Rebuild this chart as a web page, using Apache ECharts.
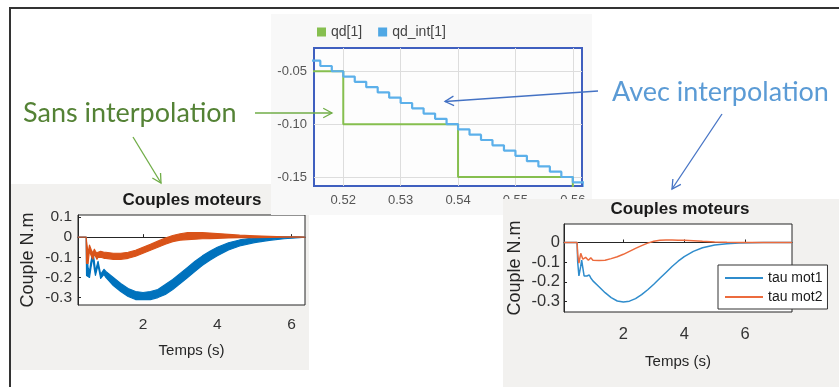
<!DOCTYPE html>
<html>
<head>
<meta charset="utf-8">
<title>Couples moteurs</title>
<script src="https://cdn.jsdelivr.net/npm/echarts@6.0.0/dist/echarts.min.js"></script>
<style>
html, body { margin: 0; padding: 0; background: #fff; }
#main { width: 839px; height: 387px; }
</style>
</head>
<body>
<div id="main"></div>
<script>
// consigne qd et consigne interpolee (zoom autour de t = 0.54 s)
var qdTime = [0.514, 0.52, 0.54, 0.56, 0.562];
var qd = [-0.05, -0.10, -0.15, -0.20, -0.20];
var qdIntTime = [0.514, 0.516, 0.518, 0.520, 0.522, 0.524, 0.526, 0.528, 0.530, 0.532, 0.534, 0.536, 0.538,
    0.540, 0.542, 0.544, 0.546, 0.548, 0.550, 0.552, 0.554, 0.556, 0.558, 0.560, 0.562];
var qdInt = [-0.040, -0.045, -0.050, -0.055, -0.060, -0.065, -0.070, -0.075, -0.080, -0.085, -0.090, -0.095, -0.100,
    -0.105, -0.110, -0.115, -0.120, -0.125, -0.130, -0.135, -0.140, -0.145, -0.150, -0.155, -0.160];
var midXTicks = [0.52, 0.53, 0.54, 0.55, 0.56];
var midYTicks = [-0.05, -0.10, -0.15];

// couples sans interpolation : enveloppe haute / basse des oscillations
var leftTime = [0.25, 0.47, 0.48, 0.52, 0.56, 0.6, 0.65, 0.69, 0.72, 0.76, 0.79, 0.86, 0.95, 1.0, 1.2, 1.4, 1.6, 1.8,
    2.0, 2.2, 2.4, 2.6, 2.8, 3.0, 3.2, 3.4, 3.6, 3.8, 4.0, 4.3, 4.6, 5.0, 5.4, 5.8, 6.2, 6.36];
var leftMot1High = [0, 0, -0.05, -0.15, -0.17, -0.12, -0.075, -0.12, -0.17, -0.14, -0.12, -0.185, -0.16, -0.17, -0.2,
    -0.23, -0.255, -0.27, -0.275, -0.27, -0.26, -0.235, -0.21, -0.18, -0.15, -0.12, -0.093, -0.07, -0.05, -0.028,
    -0.014, -0.003, 0.001, 0.002, 0.001, 0];
var leftMot1Low = [0, 0, -0.19, -0.195, -0.2, -0.15, -0.1, -0.16, -0.19, -0.16, -0.14, -0.205, -0.185, -0.2, -0.24,
    -0.27, -0.295, -0.31, -0.31, -0.31, -0.3, -0.285, -0.26, -0.23, -0.2, -0.17, -0.14, -0.115, -0.092, -0.064,
    -0.044, -0.027, -0.016, -0.008, -0.003, 0];
var leftMot2High = [0, 0, -0.02, -0.08, -0.04, -0.06, -0.08, -0.06, -0.07, -0.08, -0.075, -0.07, -0.075, -0.075, -0.08,
    -0.08, -0.075, -0.065, -0.05, -0.035, -0.02, -0.005, 0.008, 0.017, 0.022, 0.023, 0.022, 0.02, 0.018, 0.014,
    0.01, 0.007, 0.004, 0.002, 0.001, 0];
var leftMot2Low = [0, 0, -0.13, -0.13, -0.065, -0.09, -0.11, -0.085, -0.095, -0.11, -0.1, -0.1, -0.105, -0.105, -0.11,
    -0.11, -0.105, -0.095, -0.08, -0.065, -0.05, -0.035, -0.022, -0.015, -0.012, -0.01, -0.008, -0.007, -0.006, -0.004,
    -0.003, -0.002, -0.001, 0, 0, 0];
var leftXTicks = [2, 4, 6];
var leftYTicks = [0.1, 0, -0.1, -0.2, -0.3];

// couples avec interpolation
var rightTime = [0.05, 0.48, 0.5, 0.54, 0.6, 0.63, 0.67, 0.71, 0.76, 0.8, 0.85, 0.88, 0.93, 1.0, 1.2, 1.4, 1.6, 1.8,
    2.0, 2.2, 2.4, 2.6, 2.8, 3.0, 3.2, 3.4, 3.6, 3.8, 4.0, 4.3, 4.6, 5.0, 5.4, 5.8, 6.2, 6.6, 7.0, 7.54];
var tauMot1 = [0, 0, -0.1, -0.17, -0.12, -0.09, -0.13, -0.17, -0.165, -0.17, -0.16, -0.165, -0.18, -0.195, -0.225,
    -0.255, -0.28, -0.297, -0.302, -0.298, -0.285, -0.265, -0.24, -0.212, -0.182, -0.152, -0.122, -0.095, -0.072,
    -0.045, -0.027, -0.013, -0.006, -0.003, -0.001, 0, 0, 0];
var tauMot2 = [0, 0, -0.06, -0.105, -0.055, -0.06, -0.085, -0.08, -0.075, -0.08, -0.09, -0.082, -0.078, -0.09, -0.092,
    -0.09, -0.082, -0.072, -0.06, -0.045, -0.03, -0.016, -0.003, 0.006, 0.011, 0.013, 0.013, 0.012, 0.011, 0.009,
    0.006, 0.003, 0.001, 0, 0, 0, 0, 0];
var rightXTicks = [2, 4, 6];
var rightYTicks = [0, -0.1, -0.2, -0.3];

var BLUE = '#0072bd', ORANGE = '#d95319';
var FONT = 'Liberation Sans';

function pairs(xs, ys) {
    return xs.map(function (x, i) { return [x, ys[i]]; });
}

// bande d'oscillation : polygone entre l'enveloppe haute et basse
function band(name, color, time, low, high, idx) {
    return {
        name: name, type: 'custom', xAxisIndex: idx, yAxisIndex: idx, z: 4, silent: true,
        data: pairs(time, high),
        renderItem: function (params, api) {
            if (params.dataIndex !== 0) return;
            var pts = [], i;
            for (i = 0; i < time.length; i++) pts.push(api.coord([time[i], high[i]]));
            for (i = time.length - 1; i >= 0; i--) pts.push(api.coord([time[i], low[i]]));
            return {
                type: 'polygon', shape: { points: pts },
                style: { fill: color, stroke: color, lineWidth: 1.2, lineJoin: 'round' }
            };
        }
    };
}

function arrow(x1, y1, x2, y2, color) {
    var a = Math.atan2(y2 - y1, x2 - x1), l = 10, s = 0.5;
    return [{
        type: 'line', z: 20, shape: { x1: x1, y1: y1, x2: x2, y2: y2 },
        style: { stroke: color, lineWidth: 1.3 }
    }, {
        type: 'polyline', z: 20,
        shape: { points: [[x2 - l * Math.cos(a - s), y2 - l * Math.sin(a - s)], [x2, y2],
            [x2 - l * Math.cos(a + s), y2 - l * Math.sin(a + s)]] },
        style: { stroke: color, fill: null, lineWidth: 1.3 }
    }];
}

function matlabX(idx, min, max, ticks, z, nameGap, margin, size) {
    return {
        type: 'value', gridIndex: idx, min: min, max: max, z: z,
        name: 'Temps (s)', nameLocation: 'middle', nameGap: nameGap,
        nameTextStyle: { fontSize: 15, color: '#262626', fontFamily: FONT },
        axisLine: { show: true, lineStyle: { color: '#262626' } },
        axisTick: { show: true, inside: true, length: 3, customValues: ticks, lineStyle: { color: '#262626' } },
        axisLabel: { customValues: ticks, margin: margin, fontSize: size, color: '#333', fontFamily: FONT },
        splitLine: { show: false }
    };
}

function matlabY(idx, min, max, ticks, z, nameGap, margin, size) {
    return {
        type: 'value', gridIndex: idx, min: min, max: max, z: z,
        name: 'Couple N.m', nameLocation: 'middle', nameGap: nameGap,
        nameTextStyle: { fontSize: 18, color: '#262626', fontFamily: FONT },
        axisLine: { show: true, lineStyle: { color: '#262626' } },
        axisTick: { show: true, inside: true, length: 3, customValues: ticks, lineStyle: { color: '#262626' } },
        axisLabel: {
            customValues: ticks, margin: margin, fontSize: size, color: '#333', fontFamily: FONT,
            formatter: function (v) { return Math.abs(v) < 1e-9 ? '0' : String(Math.round(v * 10) / 10); }
        },
        splitLine: { show: false }
    };
}

var graphics = [
    // fonds des trois captures
    { type: 'rect', z: 1, shape: { x: 11, y: 184, width: 298, height: 186 }, style: { fill: '#f2f1ef' } },
    { type: 'rect', z: 5, shape: { x: 271, y: 14, width: 321, height: 201 }, style: { fill: '#f8f8f8' } },
    { type: 'rect', z: 9, shape: { x: 503, y: 199, width: 336, height: 188 }, style: { fill: '#f2f1ef' } },
    // cadre
    { type: 'polyline', z: 20, shape: { points: [[10, 387], [10, 8], [839, 8]] },
        style: { stroke: '#333', lineWidth: 2, fill: null } },
    // titres
    { type: 'text', z: 4, x: 192, y: 200, style: { text: 'Couples moteurs', font: 'bold 17px "Liberation Sans"',
        fill: '#1a1a1a', align: 'center', verticalAlign: 'middle' } },
    { type: 'text', z: 12, x: 680, y: 209, style: { text: 'Couples moteurs', font: 'bold 17px "Liberation Sans"',
        fill: '#1a1a1a', align: 'center', verticalAlign: 'middle' } },
    // annotations
    { type: 'text', z: 20, x: 23, y: 113, style: { text: 'Sans interpolation', font: '27px Lato',
        fill: '#548235', align: 'left', verticalAlign: 'middle' } },
    { type: 'text', z: 20, x: 612, y: 92, style: { text: 'Avec interpolation', font: '27px Lato',
        fill: '#5b9bd5', align: 'left', verticalAlign: 'middle' } }
];
graphics = graphics.concat(
    arrow(255, 113, 332, 113, '#70ad47'),
    arrow(133, 137, 161, 183, '#70ad47'),
    arrow(598, 91, 445, 101.5, '#4472c4'),
    arrow(722, 114, 672, 189, '#4472c4')
);

var option = {
    animation: false,
    backgroundColor: '#fff',
    graphic: { elements: graphics },
    legend: [{
        data: ['qd[1]', 'qd_int[1]'], z: 8,
        left: 312, top: 20, icon: 'rect', itemWidth: 9, itemHeight: 9, itemGap: 16,
        textStyle: { fontSize: 14, color: '#444', fontFamily: FONT }
    }, {
        data: ['tau mot1', 'tau mot2'], z: 13, orient: 'vertical',
        left: 718, top: 265, icon: 'rect', itemWidth: 38, itemHeight: 2, itemGap: 5,
        padding: [6, 5, 5, 7], backgroundColor: '#fff', borderColor: '#333', borderWidth: 1,
        textStyle: { fontSize: 14, color: '#1a1a1a', fontFamily: FONT }
    }],
    grid: [
        { left: 78, top: 215, width: 227, height: 90, show: true, z: 2,
            backgroundColor: '#fff', borderColor: '#262626', borderWidth: 1 },
        { left: 314, top: 48, width: 268, height: 138, show: true, z: 6,
            backgroundColor: '#fdfdfd', borderColor: '#3f5fbf', borderWidth: 2 },
        { left: 564, top: 224, width: 228, height: 88, show: true, z: 10,
            backgroundColor: '#fff', borderColor: '#262626', borderWidth: 1 }
    ],
    xAxis: [
        matlabX(0, 0.25, 6.36, leftXTicks, 3, 38, 12, 15.5),
        {
            type: 'value', gridIndex: 1, min: 0.5149, max: 0.5616, z: 7,
            axisLine: { show: false }, axisTick: { show: false, customValues: midXTicks },
            axisLabel: { customValues: midXTicks, margin: 8, fontSize: 13, color: '#555', fontFamily: FONT,
                formatter: function (v) { return v.toFixed(2); } },
            splitLine: { show: true, lineStyle: { color: '#dddddd' } }
        },
        matlabX(2, 0.05, 7.54, rightXTicks, 11, 42, 14, 16.5)
    ],
    yAxis: [
        matlabY(0, -0.337, 0.11, leftYTicks, 3, 41, 6, 15.5),
        {
            type: 'value', gridIndex: 1, min: -0.1585, max: -0.028, z: 7,
            axisLine: { show: false }, axisTick: { show: false, customValues: midYTicks },
            axisLabel: { customValues: midYTicks, margin: 7, fontSize: 13, color: '#555', fontFamily: FONT,
                formatter: function (v) { return v.toFixed(2); } },
            splitLine: { show: true, lineStyle: { color: '#dddddd' } }
        },
        matlabY(2, -0.353, 0.094, rightYTicks, 11, 40, 4, 16.5)
    ],
    series: [
        band('mot1 brut', BLUE, leftTime, leftMot1Low, leftMot1High, 0),
        band('mot2 brut', ORANGE, leftTime, leftMot2Low, leftMot2High, 0),
        {
            name: 'qd[1]', type: 'line', xAxisIndex: 1, yAxisIndex: 1, z: 8, step: 'end',
            symbol: 'none', color: '#86bf4f', data: pairs(qdTime, qd),
            lineStyle: { width: 2 }
        }, {
            name: 'qd_int[1]', type: 'line', xAxisIndex: 1, yAxisIndex: 1, z: 8, step: 'end',
            symbol: 'none', color: '#4fa7e4', data: pairs(qdIntTime, qdInt),
            lineStyle: { width: 2.2, color: '#5cb0ea' }
        }, {
            name: 'tau mot1', type: 'line', xAxisIndex: 2, yAxisIndex: 2, z: 12,
            symbol: 'none', color: '#2f8ccc', data: pairs(rightTime, tauMot1),
            lineStyle: { width: 1.5 }
        }, {
            name: 'tau mot2', type: 'line', xAxisIndex: 2, yAxisIndex: 2, z: 12,
            symbol: 'none', color: '#ec6b3d', data: pairs(rightTime, tauMot2),
            lineStyle: { width: 1.5 }
        }
    ]
};

var chart = echarts.init(document.getElementById('main'));
chart.setOption(option);
</script>
</body>
</html>
